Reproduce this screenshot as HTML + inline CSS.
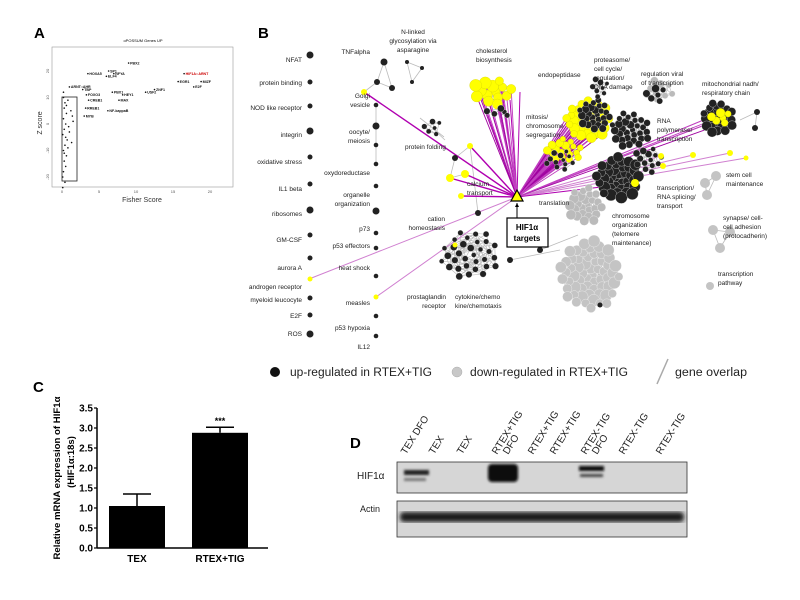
<!DOCTYPE html>
<html><head><meta charset="utf-8">
<style>
html,body{margin:0;padding:0;background:#fff;}
body{width:800px;height:600px;position:relative;overflow:hidden;font-family:"Liberation Sans",Arial,sans-serif;}
svg{position:absolute;left:0;top:0;}
</style></head>
<body>
<svg id="fig" width="800" height="600" viewBox="0 0 800 600" font-family="Liberation Sans, Arial, sans-serif">
  <text x="34" y="38" font-size="15" font-weight="bold">A</text>
  <text x="258" y="38" font-size="15" font-weight="bold">B</text>
  <text x="33" y="392" font-size="15" font-weight="bold">C</text>
  <text x="350" y="448" font-size="15" font-weight="bold">D</text>

  <g id="panelA">
    <text x="143" y="42" font-size="4" text-anchor="middle">oPOSSUM Genes UP</text>
    <rect x="52" y="47" width="181" height="140" fill="none" stroke="#999" stroke-width="0.6"/>
    <rect x="62" y="97" width="15" height="84" fill="none" stroke="#222" stroke-width="0.8"/>
    <text x="142" y="202" font-size="7" text-anchor="middle" fill="#333">Fisher Score</text>
    <text transform="translate(42,123) rotate(-90)" font-size="7" text-anchor="middle" fill="#333">Z score</text>
  </g>

  <g id="net"></g>

  <g>
    <circle cx="275" cy="372" r="5" fill="#111"/>
    <text x="290" y="376" font-size="11.5" fill="#222" textLength="142" lengthAdjust="spacingAndGlyphs">up-regulated in RTEX+TIG</text>
    <circle cx="457" cy="372" r="5" fill="#c8c8c8" stroke="#aaa" stroke-width="0.5"/>
    <text x="470" y="376" font-size="11.5" fill="#222" textLength="158" lengthAdjust="spacingAndGlyphs">down-regulated in RTEX+TIG</text>
    <line x1="657" y1="384" x2="668" y2="359" stroke="#aaa" stroke-width="1.5"/>
    <text x="675" y="376" font-size="11.5" fill="#222" textLength="72" lengthAdjust="spacingAndGlyphs">gene overlap</text>
  </g>

  <g id="panelC">
    <text transform="translate(60,478) rotate(-90)" font-size="9.5" font-weight="bold" text-anchor="middle" textLength="163" lengthAdjust="spacingAndGlyphs">Relative mRNA expression of HIF1α</text>
    <text transform="translate(74,462) rotate(-90)" font-size="9.5" font-weight="bold" text-anchor="middle">(HIF1α:18s)</text>
  </g>

  <g id="panelD">
    <defs>
      <filter id="blur1"><feGaussianBlur stdDeviation="1.3"/></filter>
      <filter id="blur2"><feGaussianBlur stdDeviation="2"/></filter>
    </defs>
    <text x="357" y="479" font-size="10" fill="#222">HIF1α</text>
    <text x="360" y="512" font-size="9" fill="#222">Actin</text>
    <rect x="397" y="462" width="290" height="31" fill="#d6d6d6" stroke="#333" stroke-width="0.8"/>
    <rect x="397" y="501" width="290" height="36" fill="#d6d6d6" stroke="#333" stroke-width="0.8"/>
    <g filter="url(#blur1)">
      <rect x="404" y="470" width="25" height="5" fill="#222"/>
      <rect x="404" y="478" width="22" height="3" fill="#777"/>
      <rect x="488" y="464" width="30" height="18" rx="4" fill="#0a0a0a"/>
      <rect x="579" y="466" width="25" height="5" fill="#111"/>
      <rect x="580" y="474" width="23" height="3" fill="#444"/>
    </g>
    <g filter="url(#blur2)">
      <rect x="400" y="512" width="284" height="10" rx="4" fill="#1a1a1a"/>
    </g>
  </g>
</svg>

<script>
const NS='http://www.w3.org/2000/svg';
function mk(tag,attrs,parent,txt){const e=document.createElementNS(NS,tag);for(const k in attrs)e.setAttribute(k,attrs[k]);if(txt!==undefined)e.textContent=txt;parent.appendChild(e);return e;}

/* ---------- Panel C data ---------- */
const cCategories=['TEX','RTEX+TIG'];
const cValues=[1.05,2.88];
const cErrors=[0.30,0.14];
const cTicks=[0,0.5,1.0,1.5,2.0,2.5,3.0,3.5];
const cSig=['','***'];
(function(){
  const g=document.getElementById('panelC');
  const y0=548,y1=408,vmax=3.5;
  const ys=v=>y0-(v/vmax)*(y0-y1);
  const xl=97,xr=268;
  const bw=56;
  const xs=i=>137+i*83*(2/cCategories.length);
  const ax=mk('line',{x1:xl,y1:y1,x2:xl,y2:y0,stroke:'#000','stroke-width':1.5},g);
  
  const bx=mk('line',{x1:xl,y1:y0,x2:xr,y2:y0,stroke:'#000','stroke-width':1.5},g);
  
  cTicks.forEach(t=>{
    mk('line',{x1:xl-3,y1:ys(t),x2:xl,y2:ys(t),stroke:'#000','stroke-width':1.2},g);
    const tl=mk('text',{x:xl-4,y:ys(t)+3.5,'font-size':10,'font-weight':'bold','text-anchor':'end'},g,t.toFixed(1));
    
  });
  cCategories.forEach((c,i)=>{
    const cx=xs(i);
    const top=ys(cValues[i]);
    const et=ys(cValues[i]+cErrors[i]);
    const eb=mk('line',{x1:cx,y1:et,x2:cx,y2:top,stroke:'#000','stroke-width':1.5},g);
    
    mk('line',{x1:cx-14,y1:et,x2:cx+14,y2:et,stroke:'#000','stroke-width':1.5},g);
    const b=mk('rect',{x:cx-bw/2,y:top,width:bw,height:y0-top,fill:'#000'},g);
    
    
    const l=mk('text',{x:cx,y:y0+14,'font-size':10,'font-weight':'bold','text-anchor':'middle'},g,c);
    
    if(cSig[i]){const s=mk('text',{x:cx,y:et-3,'font-size':9,'font-weight':'bold','text-anchor':'middle'},g,cSig[i]);
      }
  });
})();

/* ---------- Panel A data ---------- */
const aXTicks=[0,5,10,15,20];
const aYTicks=[20,10,0,-10,-20];
const aLabels=['PBX2','HOXA5','NFYA','SP1','ELF4','HIF1A::ARNT','EGR1','MIZF','E2F','ARNT::AHR','TBP','PBX1','HEY1','USF2','ZNF1','FOXO3','MAX','CREB1','RREB1','NF-kappaB','MYB'];
const aFisher=[9.0,3.5,7.0,6.3,6.0,16.5,15.7,18.8,17.8,1.0,2.8,6.8,8.2,11.3,12.5,3.3,7.7,3.6,3.2,6.2,3.0];
const aZ=[23,19,19,20,18,19,16,16,14,14,13,12,11,12,13,11,9,9,6,5,3];
const aCloudX=[0.2,0.4,0.3,0.6,0.8,0.2,0.5,1.2,1.4,0.3,0.1,0.7,0.9,1.5,0.4,0.2,0.6,1.0,0.3,0.5,0.2,0.1,0.4,0.8,0.3,1.3,0.6,0.2,0.5,0.1];
const aCloudZ=[10,8,6,4,9,2,0,5,3,-2,-4,-6,-1,1,-8,-10,-12,-3,-14,-16,-18,-20,-22,-9,-11,-7,7,12,-5,-24];
(function(){
  const g=document.getElementById('panelA');
  const xs=v=>62+v*(210-62)/20;
  const ys=v=>124-v*(26.5/10);
  aXTicks.forEach(t=>{const e=mk('text',{x:xs(t),y:193,'font-size':4,'text-anchor':'middle',fill:'#555'},g,t);
    });
  aYTicks.forEach(t=>{const e=mk('text',{transform:`translate(49,${ys(t)}) rotate(-90)`,'font-size':4,'text-anchor':'middle',fill:'#555'},g,t);
    });
  aLabels.forEach((l,i)=>{
    const p=mk('circle',{cx:xs(aFisher[i]),cy:ys(aZ[i]),r:0.8,fill:'#111'},g);
    
    const red=l==='HIF1A::ARNT';
    const t=mk('text',{x:xs(aFisher[i])+1.5,y:ys(aZ[i])+1.3,'font-size':3.6,'font-weight':'bold',fill:red?'#c00':'#111'},g,l);
    
  });
  aCloudX.forEach((x,i)=>{
    const p=mk('circle',{cx:xs(x),cy:ys(aCloudZ[i]),r:0.8,fill:'#111'},g);
    
  });
})();

/* ---------- Panel D lane labels ---------- */
const dLanes=[['TEX DFO'],['TEX'],['TEX'],['RTEX+TIG','DFO'],['RTEX+TIG'],['RTEX+TIG'],['RTEX-TIG','DFO'],['RTEX-TIG'],['RTEX-TIG']];
const dLaneX=[406,434,462,497,533,555,586,624,661];
(function(){
  const g=document.getElementById('panelD');
  dLanes.forEach((ls,i)=>{
    ls.forEach((s,j)=>{
      const t=mk('text',{transform:`translate(${dLaneX[i]+j*11},455) rotate(-58)`,'font-size':10,fill:'#222'},g,s);
      
    });
  });
})();

/* ---------- Panel B network ---------- */
const hub=[517,197];
const leftLabels=['NFAT','protein binding','NOD like receptor','integrin','oxidative stress','IL1 beta','ribosomes','GM-CSF','aurora A','androgen receptor','myeloid leucocyte','E2F','ROS'];
const leftLabelY=[62,85,110,137,164,191,216,242,270,289,302,318,336];
const leftDotY=[55,82,106,131,157,184,210,235,258,279,298,315,334];
const leftDotYellow=[0,0,0,0,0,0,0,0,0,1,0,0,0];
const midLabels=[['TNFalpha'],['Golgi','vesicle'],['oocyte/','meiosis'],['oxydoreductase'],['organelle','organization'],['p73'],['p53 effectors'],['heat shock'],['measles'],['p53 hypoxia'],['IL12']];
const midLabelY=[54,98,134,175,197,231,248,270,305,330,349];
const midDotY=[105,126,145,164,186,211,233,248,276,297,316,336];
const clusters=[
 [492,92,20,14,14,'#ffff00',6],
 [500,112,14,5,5,'#222',3.5],
 [588,120,22,20,40,'#ffff00',5],
 [595,115,16,16,26,'#222',4],
 [565,150,18,12,18,'#ffff00',4],
 [560,160,16,10,12,'#222',3],
 [630,130,20,18,30,'#222',4],
 [618,178,22,22,40,'#222',6],
 [648,160,14,14,14,'#222',3.5],
 [660,90,14,12,10,'#bbb',4],
 [655,95,10,10,6,'#222',4],
 [585,205,18,18,25,'#bbb',5],
 [590,275,30,35,60,'#c4c4c4',6],
 [718,118,16,16,30,'#222',5],
 [720,118,10,8,6,'#ffff00',4.5],
 [600,88,10,10,8,'#222',3],
 [470,255,30,25,32,'#222',3.5],
 [432,128,9,10,6,'#222',3],
];
const extraNodes=[
 [384,62,3.5,'#222'],[377,82,3,'#222'],[392,88,3,'#222'],[364,92,3,'#ffff00'],
 [407,62,2,'#222'],[422,68,2,'#222'],[412,82,2,'#222'],
 [455,158,3,'#222'],[450,178,4,'#ffff00'],[465,174,4,'#ffff00'],[461,196,3,'#ffff00'],[470,146,3,'#ffff00'],
 [478,213,3,'#222'],[455,245,2.5,'#ffff00'],
 [716,176,5,'#c4c4c4'],[705,183,5,'#c4c4c4'],[707,195,5,'#c4c4c4'],
 [713,230,5,'#c4c4c4'],[720,248,5,'#c4c4c4'],[730,232,5,'#c4c4c4'],
 [710,286,4,'#c4c4c4'],[757,112,3,'#222'],[755,128,3,'#222'],[746,158,2.5,'#ffff00'],
 [730,153,3,'#ffff00'],[693,155,3,'#ffff00'],[661,156,3,'#ffff00'],[663,166,3,'#ffff00'],
 [635,183,4,'#ffff00'],[600,305,2.5,'#222'],[540,250,3,'#222'],[510,260,3,'#222']
];
const targetPts=[[364,92],[450,178],[465,174],[461,196],[470,146],[309,279],[376,297],[746,158],[730,153],[693,155],[661,156],[635,183],[480,93],[500,78],[510,100],[520,92],[505,110]];
const netLabels=[
 [[413,34],['N-linked','glycosylation via','asparagine'],'middle'],
 [[476,53],['cholesterol','biosynthesis'],'start'],
 [[538,77],['endopeptidase'],'start'],
 [[594,62],['proteasome/','cell cycle/','regulation/','DNA damage'],'start'],
 [[641,76],['regulation viral','of transcription'],'start'],
 [[702,86],['mitochondrial nadh/','respiratory chain'],'start'],
 [[526,119],['mitosis/','chromosome','segregation'],'start'],
 [[657,123],['RNA','polymerase/','transcription'],'start'],
 [[726,177],['stem cell','maintenance'],'start'],
 [[657,190],['transcription/','RNA splicing/','transport'],'start'],
 [[539,205],['translation'],'start'],
 [[612,218],['chromosome','organization','(telomere','maintenance)'],'start'],
 [[723,220],['synapse/ cell-','cell adhesion','(protocadherin)'],'start'],
 [[718,276],['transcription','pathway'],'start'],
 [[405,149],['protein folding'],'start'],
 [[467,186],['calcium','transport'],'start'],
 [[445,221],['cation','homeostasis'],'end'],
 [[446,299],['prostaglandin','receptor'],'end'],
 [[455,299],['cytokine/chemo','kine/chemotaxis'],'start']
];
(function(){
  const g=document.getElementById('net');
  const edges=mk('g',{},g);
  const mag=mk('g',{},g);
  const nodes=mk('g',{},g);
  const GA=2.39996;
  const allPts=[];
  clusters.forEach(c=>{
    const [cx,cy,rx,ry,n,col,r]=c;const pts=[];
    for(let i=0;i<n;i++){const f=Math.sqrt((i+0.5)/n);const a=i*GA;
      pts.push([cx+rx*f*Math.cos(a),cy+ry*f*Math.sin(a),r*(0.7+0.3*((i*7)%5)/4),col]);}
    for(let i=0;i<pts.length;i++){for(let j=i+1;j<Math.min(pts.length,i+4);j++){
      mk('line',{x1:pts[i][0],y1:pts[i][1],x2:pts[j][0],y2:pts[j][1],stroke:'#bbb','stroke-width':0.6},edges);}}
    pts.forEach(p=>allPts.push(p));
  });
  [[384,62,377,82],[377,82,392,88],[392,88,384,62],[377,82,364,92],[407,62,422,68],[422,68,412,82],[407,62,412,82],
   [376,105,376,164],[455,158,470,146],[455,158,450,178],[450,178,465,174],[470,146,478,213],[560,250,510,260],[540,250,578,235],
   [716,176,705,183],[705,183,707,195],[716,176,707,195],[713,230,720,248],[720,248,730,232],[713,230,730,232],[757,112,740,120],[757,112,755,128],
   [432,128,445,140],[420,118,444,137]].forEach(e=>mk('line',{x1:e[0],y1:e[1],x2:e[2],y2:e[3],stroke:'#bbb','stroke-width':0.8},edges));
  targetPts.forEach((p,i)=>{
    mk('line',{x1:hub[0],y1:hub[1],x2:p[0],y2:p[1],stroke:i<5||i>10?'#b000b0':'#d080d0','stroke-width':i<5?1.4:1},mag);
  });
  allPts.filter(p=>p[3]==='#ffff00').forEach((p,i)=>{
    mk('line',{x1:hub[0],y1:hub[1],x2:p[0],y2:p[1],stroke:i%3?'#c040c0':'#a000a0','stroke-width':0.9},mag);
  });
  allPts.forEach(p=>{const n=mk('circle',{cx:p[0],cy:p[1],r:p[2],fill:p[3],stroke:p[3]==='#ffff00'?'#cc0':'#fff','stroke-width':0.3},nodes);
    });
  extraNodes.forEach(p=>{const n=mk('circle',{cx:p[0],cy:p[1],r:p[2],fill:p[3]},nodes);
    });
  leftLabels.forEach((l,i)=>{
    const t=mk('text',{x:302,y:leftLabelY[i],'font-size':6.5,'text-anchor':'end',fill:'#222'},g,l);
    
  });
  leftDotY.forEach((y,i)=>{const n=mk('circle',{cx:310,cy:y,r:leftDotYellow[i]?2.5:(i%3===0?3.5:2.5),fill:leftDotYellow[i]?'#ffff00':'#222'},nodes);
    });
  midLabels.forEach((ls,i)=>{ls.forEach((s,j)=>{
    const t=mk('text',{x:370,y:midLabelY[i]+j*9,'font-size':6.5,'text-anchor':'end',fill:'#222'},g,s);
    });});
  midDotY.forEach((y,i)=>{const yel=(y===297);const n=mk('circle',{cx:376,cy:y,r:yel?2.5:(i%4===1?3.5:2.3),fill:yel?'#ffff00':'#222'},nodes);
    });
  netLabels.forEach(L=>{L[1].forEach((s,j)=>{
    const t=mk('text',{x:L[0][0],y:L[0][1]+j*9,'font-size':6.5,'text-anchor':L[2],fill:'#222'},g,s);
    });});
  const tri=mk('polygon',{points:`${hub[0]},${hub[1]-7} ${hub[0]-6},${hub[1]+4} ${hub[0]+6},${hub[1]+4}`,fill:'#ffff00',stroke:'#000','stroke-width':1.2},g);
  
  mk('line',{x1:hub[0],y1:hub[1]+6,x2:hub[0],y2:218,stroke:'#000','stroke-width':1},g);
  mk('polygon',{points:`${hub[0]},${hub[1]+6} ${hub[0]-2},${hub[1]+10} ${hub[0]+2},${hub[1]+10}`,fill:'#000'},g);
  const box=mk('rect',{x:507,y:218,width:41,height:29,fill:'#fff',stroke:'#000','stroke-width':1.2},g);
  
  const b1=mk('text',{x:527,y:230,'font-size':8,'font-weight':'bold','text-anchor':'middle'},g,'HIF1α');
  
  const b2=mk('text',{x:527,y:241,'font-size':8,'font-weight':'bold','text-anchor':'middle'},g,'targets');
  
})();
</script>
</body></html>
